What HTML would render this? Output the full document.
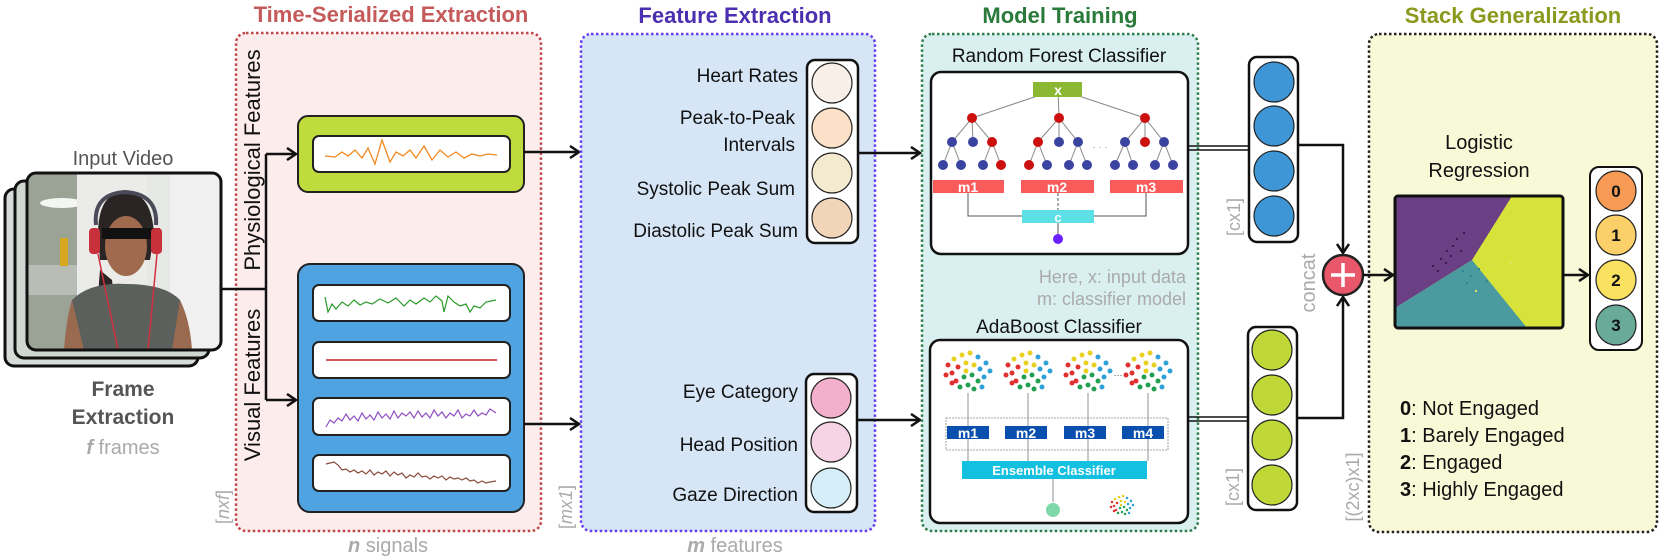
<!DOCTYPE html>
<html><head><meta charset="utf-8"><style>
html,body{margin:0;padding:0;background:#fff}
svg{display:block}
text{font-family:"Liberation Sans",sans-serif}
</style></head><body>
<svg width="1661" height="557" viewBox="0 0 1661 557" xmlns="http://www.w3.org/2000/svg">
<defs>
<marker id="ar" markerWidth="14" markerHeight="14" refX="11" refY="7" orient="auto" markerUnits="userSpaceOnUse">
<path d="M2,1 L11,7 L2,13" fill="none" stroke="#111" stroke-width="2.5"/>
</marker>
<g id="cl">
<circle cx="-20" cy="-8" r="2.5" fill="#e03030"/><circle cx="-14" cy="-14" r="2.5" fill="#e8d020"/><circle cx="-6" cy="-18" r="2.5" fill="#e8d020"/><circle cx="2" cy="-20" r="2.5" fill="#e8d020"/><circle cx="10" cy="-16" r="2.5" fill="#30a0d8"/><circle cx="18" cy="-10" r="2.5" fill="#30a0d8"/><circle cx="22" cy="-2" r="2.5" fill="#30a0d8"/><circle cx="16" cy="4" r="2.5" fill="#30a0d8"/><circle cx="-22" cy="2" r="2.5" fill="#e03030"/><circle cx="-16" cy="0" r="2.5" fill="#e03030"/><circle cx="-10" cy="-6" r="2.5" fill="#e03030"/><circle cx="-2" cy="-10" r="2.5" fill="#e8d020"/><circle cx="6" cy="-8" r="2.5" fill="#e8d020"/><circle cx="12" cy="-4" r="2.5" fill="#30a0d8"/><circle cx="-12" cy="8" r="2.5" fill="#e03030"/><circle cx="-4" cy="4" r="2.5" fill="#20a050"/><circle cx="4" cy="2" r="2.5" fill="#20a050"/><circle cx="10" cy="8" r="2.5" fill="#20a050"/><circle cx="-8" cy="14" r="2.5" fill="#20a050"/><circle cx="0" cy="12" r="2.5" fill="#20a050"/><circle cx="6" cy="16" r="2.5" fill="#20a050"/><circle cx="-16" cy="10" r="2.5" fill="#e03030"/><circle cx="14" cy="14" r="2.5" fill="#30a0d8"/><circle cx="-2" cy="-2" r="2.5" fill="#e8d020"/>
</g>
</defs>

<!-- Video frames -->
<rect x="5" y="189" width="193" height="177" rx="9" fill="#d8dcd8" stroke="#111" stroke-width="3"/>
<rect x="15" y="181" width="194" height="177" rx="9" fill="#d0d6d0" stroke="#111" stroke-width="3"/>
<clipPath id="fc"><rect x="27" y="173" width="194" height="177" rx="9"/></clipPath>
<g clip-path="url(#fc)">
<rect x="27" y="173" width="194" height="177" fill="#e6e8e6"/>
<rect x="27" y="173" width="50" height="177" fill="#9aa396"/>
<ellipse cx="62" cy="203" rx="22" ry="5" fill="#f4f6f2"/>
<rect x="27" y="265" width="50" height="30" fill="#b8bdb5"/>
<rect x="60" y="238" width="8" height="28" fill="#d8a820"/>
<rect x="77" y="173" width="70" height="177" fill="#ebebea"/>
<rect x="170" y="173" width="51" height="177" fill="#f0f0f0"/>
<path d="M98,235 Q98,192 125,192 Q152,192 154,235 L150,260 L100,260 Z" fill="#2a2424"/>
<path d="M100,270 Q95,320 105,350 L120,350 L112,280 Z" fill="#2a2424"/>
<ellipse cx="126" cy="246" rx="21" ry="30" fill="#a06a4e"/>
<rect x="102" y="228" width="58" height="11" fill="#111"/>
<path d="M70,350 L72,300 Q90,282 126,284 Q165,284 180,300 L190,350 Z" fill="#5c605c"/>
<path d="M72,300 Q66,320 64,350 L84,350 Z" fill="#9a6a50"/>
<path d="M180,300 Q190,320 192,350 L172,350 Z" fill="#9a6a50"/>
<path d="M96,225 Q93,194 125,192 Q158,194 156,225" fill="none" stroke="#4a4a58" stroke-width="4"/>
<rect x="89" y="228" width="11" height="26" rx="4" fill="#c8303a"/>
<rect x="151" y="228" width="11" height="26" rx="4" fill="#c8303a"/>
<path d="M98,254 L118,350 M157,254 L148,350" stroke="#d03040" stroke-width="1.5" fill="none"/>
</g>
<rect x="27" y="173" width="194" height="177" rx="9" fill="none" stroke="#111" stroke-width="3"/>
<text x="123" y="165" font-size="20" fill="#555" text-anchor="middle">Input Video</text>
<text x="123" y="396" font-size="21" fill="#555" font-weight="bold" text-anchor="middle">Frame</text>
<text x="123" y="424" font-size="21" fill="#555" font-weight="bold" text-anchor="middle">Extraction</text>
<text x="123" y="454" font-size="20" fill="#aaa" text-anchor="middle"><tspan font-weight="bold" font-style="italic">f</tspan> frames</text>

<!-- Time-Serialized -->
<text x="391" y="22" font-size="22" font-weight="bold" fill="#c55a5a" text-anchor="middle">Time-Serialized Extraction</text>
<rect x="236" y="33" width="305" height="498" rx="10" fill="#fdecec" stroke="#c0464a" stroke-width="2.5" stroke-dasharray="2.5,2.5"/>
<text transform="translate(260,160) rotate(-90)" font-size="22" fill="#111" text-anchor="middle">Physiological Features</text>
<text transform="translate(260,385) rotate(-90)" font-size="22" fill="#111" text-anchor="middle">Visual Features</text>
<text transform="translate(229,507) rotate(-90)" font-size="18" fill="#aaa" text-anchor="middle">[<tspan font-style="italic">nxf</tspan>]</text>
<text x="388" y="552" font-size="20" fill="#aaa" text-anchor="middle"><tspan font-weight="bold" font-style="italic">n</tspan> signals</text>

<path d="M221,289 L266,289 M266,154 L266,400" stroke="#111" stroke-width="2.5" fill="none"/>
<path d="M266,154 L296,154" stroke="#111" stroke-width="2.5" marker-end="url(#ar)"/>
<path d="M266,400 L296,400" stroke="#111" stroke-width="2.5" marker-end="url(#ar)"/>

<rect x="298" y="116" width="226" height="76" rx="10" fill="#c0dc3c" stroke="#222" stroke-width="2"/>
<rect x="313" y="136" width="197" height="36" rx="6" fill="#fff" stroke="#222" stroke-width="2"/>
<polyline fill="none" stroke="#f08a20" stroke-width="1.3" points="325,156 335,157 342,152 348,156 355,150 362,158 368,148 375,164 382,140 390,162 396,152 403,156 410,150 416,158 424,146 432,160 440,150 448,157 456,152 464,158 472,154 480,156 488,154 497,155"/>

<rect x="298" y="264" width="226" height="248" rx="12" fill="#4fa3e0" stroke="#222" stroke-width="2"/>
<rect x="313" y="285" width="197" height="36" rx="6" fill="#fff" stroke="#222" stroke-width="2"/>
<rect x="313" y="342" width="197" height="36" rx="6" fill="#fff" stroke="#222" stroke-width="2"/>
<rect x="313" y="398" width="197" height="37" rx="6" fill="#fff" stroke="#222" stroke-width="2"/>
<rect x="313" y="455" width="197" height="36" rx="6" fill="#fff" stroke="#222" stroke-width="2"/>
<polyline fill="none" stroke="#2a9a2a" stroke-width="1.2" points="325,297 328,312 332,304 336,309 342,302 348,306 354,300 360,305 366,302 372,304 380,299 388,303 396,298 404,306 410,300 416,304 424,298 430,302 436,296 442,301 444,312 448,296 454,302 460,306 466,304 470,312 474,306 480,308 486,302 496,300"/>
<line x1="326" y1="360" x2="497" y2="360" stroke="#c02020" stroke-width="1.5"/>
<polyline fill="none" stroke="#9050c0" stroke-width="1.2" points="326,427 330,420 334,423 338,418 342,421 346,414 350,420 354,416 358,421 362,413 366,419 370,415 374,420 378,412 382,418 386,414 390,419 394,411 398,418 402,413 406,416 410,412 414,418 418,411 422,417 426,413 430,418 434,410 438,416 442,412 446,418 450,413 454,416 458,410 462,418 466,414 470,416 474,410 478,416 482,413 486,415 490,409 496,413"/>
<polyline fill="none" stroke="#8a4a3a" stroke-width="1.2" points="326,464 330,463 334,462 338,465 342,470 346,469 350,472 354,470 358,473 362,471 366,474 370,470 374,475 378,472 382,474 386,471 390,476 394,472 398,475 402,473 406,478 410,475 414,477 418,473 422,477 426,476 430,479 434,476 438,478 442,476 446,480 450,477 454,479 458,478 462,480 466,478 470,481 474,480 478,483 482,481 486,483 490,482 496,481"/>

<path d="M524,152 L579,152" stroke="#111" stroke-width="2.5" marker-end="url(#ar)"/>
<path d="M524,424 L579,424" stroke="#111" stroke-width="2.5" marker-end="url(#ar)"/>

<!-- Feature Extraction -->
<text x="735" y="23" font-size="22" font-weight="bold" fill="#4a30b0" text-anchor="middle">Feature Extraction</text>
<rect x="581" y="34" width="294" height="497" rx="10" fill="#d6e6f7" stroke="#6a3df0" stroke-width="2.5" stroke-dasharray="2.5,2.5"/>
<text transform="translate(572,507) rotate(-90)" font-size="18" fill="#aaa" text-anchor="middle">[<tspan font-style="italic">mx1</tspan>]</text>
<text x="735" y="552" font-size="20" fill="#aaa" text-anchor="middle"><tspan font-weight="bold" font-style="italic">m</tspan> features</text>
<g font-size="19" fill="#111" text-anchor="end">
<text x="798" y="82">Heart Rates</text>
<text x="795" y="124">Peak-to-Peak</text>
<text x="795" y="151">Intervals</text>
<text x="795" y="195">Systolic Peak Sum</text>
<text x="798" y="237">Diastolic Peak Sum</text>
<text x="798" y="398">Eye Category</text>
<text x="798" y="451">Head Position</text>
<text x="798" y="501">Gaze Direction</text>
</g>
<rect x="807" y="60" width="51" height="183" rx="8" fill="#fff" stroke="#111" stroke-width="2.5"/>
<circle cx="832" cy="83" r="20" fill="#f8efe8" stroke="#222" stroke-width="1.2"/>
<circle cx="832" cy="128" r="20" fill="#fde0c8" stroke="#222" stroke-width="1.2"/>
<circle cx="832" cy="173" r="20" fill="#f3ead0" stroke="#222" stroke-width="1.2"/>
<circle cx="832" cy="218" r="20" fill="#f2d4b8" stroke="#222" stroke-width="1.2"/>
<rect x="806" y="374" width="51" height="138" rx="8" fill="#fff" stroke="#111" stroke-width="2.5"/>
<circle cx="831" cy="398" r="20" fill="#f3b0cc" stroke="#222" stroke-width="1.2"/>
<circle cx="831" cy="442" r="20" fill="#f7d3e6" stroke="#222" stroke-width="1.2"/>
<circle cx="831" cy="488" r="20" fill="#d5eef7" stroke="#222" stroke-width="1.2"/>
<path d="M858,153 L920,153" stroke="#111" stroke-width="2.5" marker-end="url(#ar)"/>
<path d="M857,420 L920,420" stroke="#111" stroke-width="2.5" marker-end="url(#ar)"/>

<!-- Model Training -->
<text x="1060" y="23" font-size="22" font-weight="bold" fill="#2a7a3a" text-anchor="middle">Model Training</text>
<rect x="922" y="34" width="276" height="497" rx="10" fill="#daf0f0" stroke="#2f7d4a" stroke-width="2.5" stroke-dasharray="2.5,2.5"/>
<text x="1059" y="62" font-size="19" fill="#111" text-anchor="middle">Random Forest Classifier</text>
<rect x="931" y="72" width="257" height="182" rx="10" fill="#fff" stroke="#111" stroke-width="2.5"/>
<g stroke="#888" stroke-width="1">
<line x1="1058" y1="89" x2="972" y2="118"/><line x1="1058" y1="89" x2="1059" y2="118"/><line x1="1058" y1="89" x2="1145" y2="118"/>
<line x1="972" y1="118" x2="952" y2="142"/><line x1="972" y1="118" x2="973" y2="142"/><line x1="972" y1="118" x2="992" y2="142"/>
<line x1="952" y1="142" x2="943" y2="165"/><line x1="952" y1="142" x2="961" y2="165"/><line x1="992" y1="142" x2="983" y2="165"/><line x1="992" y1="142" x2="1001" y2="165"/>
<line x1="1059" y1="118" x2="1038" y2="142"/><line x1="1059" y1="118" x2="1059" y2="142"/><line x1="1059" y1="118" x2="1078" y2="142"/>
<line x1="1038" y1="142" x2="1029" y2="165"/><line x1="1038" y1="142" x2="1047" y2="165"/><line x1="1078" y1="142" x2="1069" y2="165"/><line x1="1078" y1="142" x2="1087" y2="165"/>
<line x1="1145" y1="118" x2="1125" y2="142"/><line x1="1145" y1="118" x2="1145" y2="142"/><line x1="1145" y1="118" x2="1164" y2="142"/>
<line x1="1125" y1="142" x2="1115" y2="165"/><line x1="1125" y1="142" x2="1133" y2="165"/><line x1="1164" y1="142" x2="1155" y2="165"/><line x1="1164" y1="142" x2="1173" y2="165"/>
</g>
<rect x="1033" y="82" width="49" height="15" fill="#8ab833"/>
<text x="1058" y="95" font-size="14" font-weight="bold" fill="#fff" text-anchor="middle">x</text>
<g fill="#cc1010"><circle cx="972" cy="118" r="5"/><circle cx="1059" cy="118" r="5"/><circle cx="1145" cy="118" r="5"/><circle cx="992" cy="142" r="5"/><circle cx="1038" cy="142" r="5"/><circle cx="1145" cy="142" r="5"/><circle cx="1001" cy="165" r="5"/><circle cx="1029" cy="165" r="5"/></g>
<g fill="#3a44a0"><circle cx="952" cy="142" r="5"/><circle cx="973" cy="142" r="5"/><circle cx="1059" cy="142" r="5"/><circle cx="1078" cy="142" r="5"/><circle cx="1125" cy="142" r="5"/><circle cx="1164" cy="142" r="5"/><circle cx="943" cy="165" r="5"/><circle cx="961" cy="165" r="5"/><circle cx="983" cy="165" r="5"/><circle cx="1047" cy="165" r="5"/><circle cx="1069" cy="165" r="5"/><circle cx="1087" cy="165" r="5"/><circle cx="1115" cy="165" r="5"/><circle cx="1133" cy="165" r="5"/><circle cx="1155" cy="165" r="5"/><circle cx="1173" cy="165" r="5"/></g>
<text x="1100" y="150" font-size="10" fill="#c080c0" text-anchor="middle">· · ·</text>
<g fill="#f95b5b"><rect x="933" y="180" width="71" height="13"/><rect x="1021" y="180" width="73" height="13"/><rect x="1110" y="180" width="73" height="13"/></g>
<g font-size="14" font-weight="bold" fill="#fff" text-anchor="middle"><text x="968" y="192">m1</text><text x="1057" y="192">m2</text><text x="1146" y="192">m3</text></g>
<path d="M968,193 L968,216 L1022,216 M1146,193 L1146,216 L1094,216" stroke="#555" stroke-width="1" fill="none"/>
<path d="M1058,193 L1058,210" stroke="#555" stroke-width="1" stroke-dasharray="3,2"/>
<rect x="1022" y="210" width="72" height="13" fill="#5ce0e6"/>
<text x="1058" y="222" font-size="13" font-weight="bold" fill="#fff" text-anchor="middle">c</text>
<line x1="1058" y1="223" x2="1058" y2="236" stroke="#555" stroke-width="1"/>
<circle cx="1058" cy="239" r="5" fill="#6a1fff"/>
<text x="1186" y="283" font-size="18" fill="#aaa" text-anchor="end">Here, x: input data</text>
<text x="1186" y="305" font-size="18" fill="#aaa" text-anchor="end">m: classifier model</text>
<text x="1059" y="333" font-size="19" fill="#111" text-anchor="middle">AdaBoost Classifier</text>
<rect x="930" y="340" width="258" height="183" rx="10" fill="#fff" stroke="#111" stroke-width="2.5"/>
<use href="#cl" x="968" y="373"/><use href="#cl" x="1028" y="373"/><use href="#cl" x="1088" y="373"/><use href="#cl" x="1148" y="373"/>
<text x="1118" y="378" font-size="9" fill="#444" text-anchor="middle">···</text>
<g stroke="#777" stroke-width="0.8"><line x1="968" y1="393" x2="968" y2="461"/><line x1="1028" y1="393" x2="1028" y2="461"/><line x1="1088" y1="393" x2="1088" y2="461"/><line x1="1148" y1="393" x2="1148" y2="461"/></g>
<rect x="946" y="418" width="222" height="32" fill="none" stroke="#888" stroke-width="0.8" stroke-dasharray="2,1"/>
<g fill="#0a4fad"><rect x="947" y="426" width="42" height="13"/><rect x="1005" y="426" width="42" height="13"/><rect x="1064" y="426" width="42" height="13"/><rect x="1122" y="426" width="42" height="13"/></g>
<g font-size="14" font-weight="bold" fill="#fff" text-anchor="middle"><text x="968" y="438">m1</text><text x="1026" y="438">m2</text><text x="1085" y="438">m3</text><text x="1143" y="438">m4</text></g>
<rect x="962" y="461" width="185" height="18" fill="#14c0e0"/>
<text x="1054" y="475" font-size="13" font-weight="bold" fill="#fff" text-anchor="middle">Ensemble Classifier</text>
<line x1="1053" y1="479" x2="1053" y2="502" stroke="#777" stroke-width="0.8"/>
<circle cx="1053" cy="510" r="7" fill="#7fd8a8"/>
<use href="#cl" transform="translate(1122,506) scale(0.5)"/>

<!-- output columns -->
<path d="M1188,146 L1249,146 M1188,150 L1249,150" stroke="#111" stroke-width="1.5"/>
<path d="M1188,417 L1248,417 M1188,421 L1248,421" stroke="#111" stroke-width="1.5"/>
<rect x="1249" y="57" width="49" height="185" rx="8" fill="#fff" stroke="#111" stroke-width="2.5"/>
<g fill="#3e96d6" stroke="#222" stroke-width="1.2"><circle cx="1274" cy="82" r="20"/><circle cx="1274" cy="126" r="20"/><circle cx="1274" cy="171" r="20"/><circle cx="1274" cy="216" r="20"/></g>
<rect x="1248" y="327" width="49" height="183" rx="8" fill="#fff" stroke="#111" stroke-width="2.5"/>
<g fill="#bfd838" stroke="#222" stroke-width="1.2"><circle cx="1272" cy="350" r="20"/><circle cx="1272" cy="395" r="20"/><circle cx="1272" cy="440" r="20"/><circle cx="1272" cy="485" r="20"/></g>
<text transform="translate(1240,217) rotate(-90)" font-size="18" fill="#aaa" text-anchor="middle">[cx1]</text>
<text transform="translate(1239,487) rotate(-90)" font-size="18" fill="#aaa" text-anchor="middle">[cx1]</text>

<path d="M1298,145 L1343,145 L1343,253" stroke="#111" stroke-width="2.5" fill="none" marker-end="url(#ar)"/>
<path d="M1297,418 L1343,418 L1343,297" stroke="#111" stroke-width="2.5" fill="none" marker-end="url(#ar)"/>
<text transform="translate(1315,283) rotate(-90)" font-size="20" fill="#aaa" text-anchor="middle">concat</text>
<text transform="translate(1359,487) rotate(-90)" font-size="18" fill="#aaa" text-anchor="middle">[(2xc)x1]</text>

<!-- Stack -->
<text x="1513" y="23" font-size="22" font-weight="bold" fill="#8a9a1e" text-anchor="middle">Stack Generalization</text>
<rect x="1369" y="34" width="288" height="498" rx="10" fill="#f8f9d6" stroke="#222" stroke-width="2.5" stroke-dasharray="2.5,2.5"/>
<circle cx="1343" cy="275" r="20" fill="#e8576a" stroke="#222" stroke-width="2.5"/>
<path d="M1331,275 L1355,275 M1343,263 L1343,287" stroke="#fff" stroke-width="3.5"/>
<path d="M1363,275 L1393,275" stroke="#111" stroke-width="2.5" marker-end="url(#ar)"/>
<text x="1479" y="149" font-size="20" fill="#111" text-anchor="middle">Logistic</text>
<text x="1479" y="177" font-size="20" fill="#111" text-anchor="middle">Regression</text>
<clipPath id="pc"><rect x="1395" y="196" width="168" height="132" rx="3"/></clipPath>
<g clip-path="url(#pc)">
<rect x="1395" y="196" width="168" height="132" fill="#d7e23a"/>
<polygon points="1395,196 1512,196 1472,260 1395,308" fill="#6a3f84"/>
<polygon points="1395,308 1472,260 1527,328 1395,328" fill="#4b9aa0"/>
<g fill="#3a1a50"><rect x="1432" y="265" width="2" height="2"/><rect x="1440" y="258" width="2" height="2"/><rect x="1446" y="250" width="2" height="2"/><rect x="1452" y="245" width="2" height="2"/><rect x="1456" y="238" width="2" height="2"/><rect x="1445" y="262" width="2" height="2"/><rect x="1460" y="250" width="2" height="2"/><rect x="1437" y="270" width="2" height="2"/><rect x="1450" y="255" width="2" height="2"/><rect x="1463" y="232" width="2" height="2"/></g>
<g fill="#2a8a90"><rect x="1462" y="270" width="2" height="2"/><rect x="1470" y="275" width="2" height="2"/><rect x="1478" y="268" width="2" height="2"/><rect x="1466" y="282" width="2" height="2"/><rect x="1486" y="280" width="2" height="2"/></g>
<g fill="#e8e060"><rect x="1482" y="260" width="2" height="2"/><rect x="1490" y="265" width="2" height="2"/><rect x="1498" y="258" width="2" height="2"/><rect x="1475" y="290" width="2" height="2"/><rect x="1510" y="262" width="2" height="2"/></g>
</g>
<rect x="1395" y="196" width="168" height="132" rx="3" fill="none" stroke="#111" stroke-width="3"/>
<path d="M1563,275 L1588,275" stroke="#111" stroke-width="2.5" marker-end="url(#ar)"/>
<rect x="1590" y="167" width="52" height="183" rx="9" fill="#fff" stroke="#111" stroke-width="2"/>
<g stroke="#222" stroke-width="1.2"><circle cx="1616" cy="191" r="20" fill="#f79a55"/><circle cx="1616" cy="235" r="20" fill="#fcd068"/><circle cx="1616" cy="280" r="20" fill="#fbe160"/><circle cx="1616" cy="325" r="20" fill="#6aaa98"/></g>
<g font-size="17" font-weight="bold" fill="#111" text-anchor="middle"><text x="1616" y="197">0</text><text x="1616" y="241">1</text><text x="1616" y="286">2</text><text x="1616" y="331">3</text></g>
<g font-size="20" fill="#111">
<text x="1400" y="415"><tspan font-weight="bold">0</tspan>: Not Engaged</text>
<text x="1400" y="442"><tspan font-weight="bold">1</tspan>: Barely Engaged</text>
<text x="1400" y="469"><tspan font-weight="bold">2</tspan>: Engaged</text>
<text x="1400" y="496"><tspan font-weight="bold">3</tspan>: Highly Engaged</text>
</g>
</svg>
</body></html>
